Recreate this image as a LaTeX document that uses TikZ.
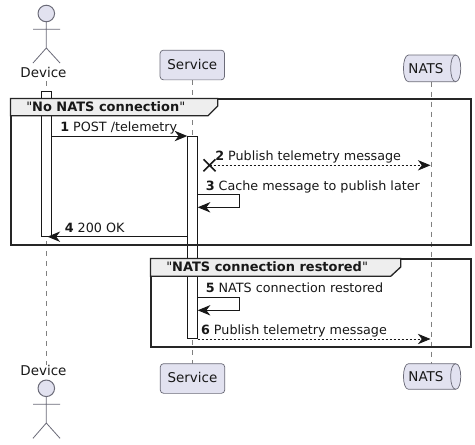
\documentclass[tikz,border=0pt]{standalone}
\usepackage{fontspec}
\setmainfont[Ligatures=TeXOff]{DejaVu Sans}
\usetikzlibrary{arrows.meta}
\definecolor{partfill}{HTML}{E2E2F0}
\definecolor{partline}{HTML}{6B6B78}
\definecolor{lifeline}{HTML}{808080}
\definecolor{tabfill}{HTML}{EEEEEE}
\definecolor{ink}{HTML}{181818}
\newcommand{\dq}{{\mdseries"}}
\tikzset{
  partbox/.style={draw=partline,fill=partfill,rounded corners=2.6pt,line width=.55pt,inner sep=0pt,minimum width=48.4pt,minimum height=22.3pt},
  stick/.style={draw=partline,line width=.6pt},
  headc/.style={circle,draw=partline,fill=partfill,line width=.75pt,inner sep=0pt,minimum size=12.4pt},
  qshape/.style={draw=partline,fill=partfill,line width=.55pt},
  partlabel/.style={anchor=base,inner sep=0pt,font=\fontsize{10.1pt}{12pt}\selectfont,text=ink},
  msglabel/.style={anchor=base west,inner sep=0pt,font=\fontsize{9.55pt}{12pt}\selectfont,text=ink},
  titlelabel/.style={anchor=base west,inner sep=0pt,font=\fontsize{9.72pt}{12pt}\selectfont\bfseries,text=ink},
  lifel/.style={draw=lifeline,line width=.6pt,dash pattern=on 3.75pt off 3.75pt},
  barbox/.style={draw=ink,fill=white,line width=.75pt,inner sep=0pt,minimum width=7.8pt},
  frameline/.style={draw=black!85,line width=1.5pt},
  tabline/.style={draw=black!85,line width=1pt,fill=tabfill},
  msg/.style={draw=ink,line width=.75pt,-{Stealth[length=9.5pt,width=7.8pt,inset=3pt,ink]}},
  dmsg/.style={msg,line width=.6pt,dash pattern=on 1.5pt off 1.5pt},
}
\begin{document}
\begin{tikzpicture}[x=.75pt,y=-.75pt]
\useasboundingbox (0,0) rectangle (475,444);
\fill[white] (0,0) rectangle (475,444);

% lifeline anchors
\coordinate (devT) at (46.3,81);
\coordinate (devB) at (46.3,365);
\coordinate (svcT) at (192.5,80);
\coordinate (svcB) at (192.5,364);
\coordinate (natT) at (431.3,81.7);
\coordinate (natB) at (431.3,364);
\draw[lifel] (devT) -- (devB);
\draw[lifel] (svcT) -- (svcB);
\draw[lifel] (natT) -- (natB);

% activation bars
\node[barbox,minimum height=108.5pt] (devbar) at (46.5,163.9) {};
\node[barbox,minimum height=152.2pt] (svcbar) at (192.5,237.5) {};

% group frames
\draw[frameline] (10.5,98.5) rectangle (470.5,244.5);
\draw[tabline] (10.5,98.5) -- (217.7,98.5) -- (217.7,106) -- (208,115.7) -- (10.5,115.7) -- cycle;
\node[titlelabel] (g1) at (26,111) {\dq No NATS connection\dq};
\draw[frameline] (150.5,258.5) rectangle (470.5,347);
\draw[tabline] (150.5,258.5) -- (400.7,258.5) -- (400.7,267) -- (390.7,276.3) -- (150.5,276.3) -- cycle;
\node[titlelabel] (g2) at (166,271.7) {\dq NATS connection restored\dq};

% participants top
\draw[stick] (46.3,21.8) -- (46.3,48) (33,29.3) -- (60,29.3) (33,63) -- (46.3,48) -- (60,63);
\node[headc] (devhead) at (46.3,13.5) {};
\node[partlabel] (devtop) at (43.5,77.3) {Device};
\node[partbox] (svctop) at (192.3,65) {};
\node[partlabel] (svctoplab) at (192.3,69.5) {Service};
\draw[qshape] (408.5,55) -- (455.7,55) .. controls (462.4,55) and (462.4,81.7) .. (455.7,81.7) -- (408.5,81.7) .. controls (401.8,81.7) and (401.8,55) .. (408.5,55) -- cycle;
\draw[qshape,fill=none] (455.7,55) .. controls (449,55) and (449,81.7) .. (455.7,81.7);
\node[partlabel] (nattop) at (426,73.3) {NATS};

% participants bottom
\node[partlabel] (devbot) at (43.5,375.7) {Device};
\draw[stick] (46.3,396.6) -- (46.3,423) (33,404.3) -- (60,404.3) (33,438.3) -- (46.3,423) -- (60,438.3);
\node[headc] (devheadb) at (46.3,388.3) {};
\node[partbox] (svcbot) at (192.5,378.5) {};
\node[partlabel] (svcbotlab) at (192.5,382.7) {Service};
\draw[qshape] (408.5,363.7) -- (455.7,363.7) .. controls (462.4,363.7) and (462.4,389.3) .. (455.7,389.3) -- (408.5,389.3) .. controls (401.8,389.3) and (401.8,363.7) .. (408.5,363.7) -- cycle;
\draw[qshape,fill=none] (455.7,363.7) .. controls (449,363.7) and (449,389.3) .. (455.7,389.3);
\node[partlabel] (natbot) at (426,381) {NATS};

% messages
\coordinate (m1a) at (51.7,136); \coordinate (m1b) at (187.3,136);
\draw[msg] (m1a) -- (m1b);
\node[msglabel] (l1) at (60,131) {\textbf{1} POST /telemetry};

\coordinate (m2a) at (209.5,165.3); \coordinate (m2b) at (430.5,165.3);
\draw[dmsg] (m2a) -- (m2b);
\draw[draw=ink,line width=1.2pt] (203.5,159.3) -- (215.5,171.3) (203.5,171.3) -- (215.5,159.3);
\node[msglabel] (l2) at (215,160) {\textbf{2} Publish telemetry message};

\coordinate (m3a) at (197.7,194.3); \coordinate (m3b) at (239.5,194.3);
\coordinate (m3c) at (239.5,207.3); \coordinate (m3d) at (197.7,207.3);
\draw[msg] (m3a) -- (m3b) -- (m3c) -- (m3d);
\node[msglabel] (l3) at (205.5,190) {\textbf{3} Cache message to publish later};

\coordinate (m4a) at (187.3,236.7); \coordinate (m4b) at (47.5,236.7);
\draw[msg] (m4a) -- (m4b);
\node[msglabel] (l4) at (64.5,232) {\textbf{4} 200 OK};

\coordinate (m5a) at (197.7,297.3); \coordinate (m5b) at (239.5,297.3);
\coordinate (m5c) at (239.5,310.3); \coordinate (m5d) at (197.7,310.3);
\draw[msg] (m5a) -- (m5b) -- (m5c) -- (m5d);
\node[msglabel] (l5) at (205.5,292) {\textbf{5} NATS connection restored};

\coordinate (m6a) at (197.7,339); \coordinate (m6b) at (430.5,339);
\draw[dmsg] (m6a) -- (m6b);
\node[msglabel] (l6) at (200.8,334) {\textbf{6} Publish telemetry message};
\end{tikzpicture}
\end{document}
